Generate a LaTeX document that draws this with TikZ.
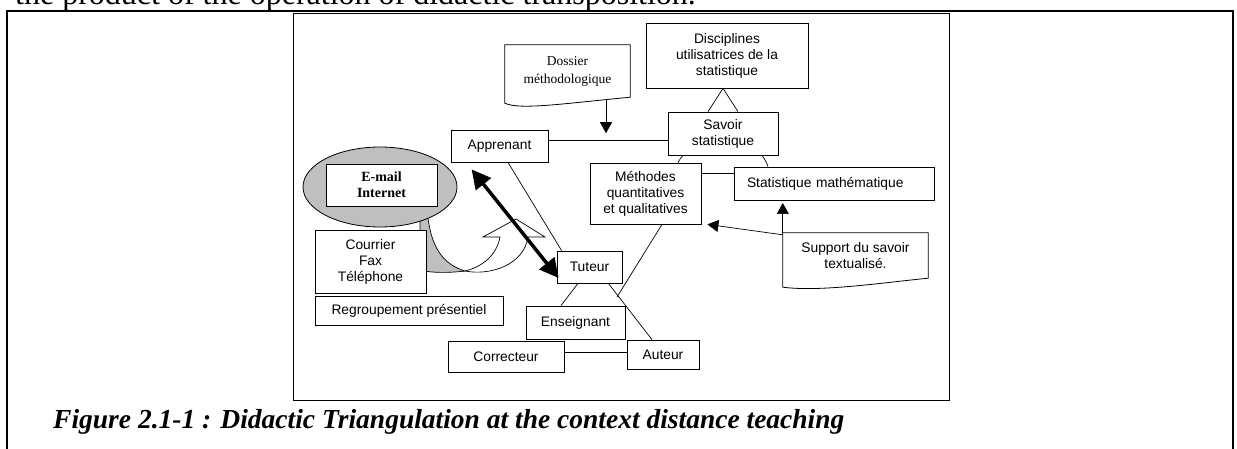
\documentclass[tikz,border=0pt]{standalone}
\usepackage{fontspec}
\setmainfont{Liberation Serif}
\setsansfont{Liberation Sans}
\usetikzlibrary{arrows.meta,shapes.geometric}
\newcommand\boxfont{\sffamily\fontsize{13.8}{16}\selectfont}

\begin{document}
\begin{tikzpicture}[x=1pt,y=-1pt,
  box/.style={draw,fill=white,line width=0.8pt,align=center,inner sep=0pt,font=\boxfont},
  link/.style={line width=0.7pt},
  tip/.style={-{Triangle[length=11pt,width=12pt]}},
  bigtip/.style={{Triangle[length=19pt,width=19pt]}-{Triangle[length=19pt,width=19pt]}}]
\useasboundingbox (0,0) rectangle (1237,449);
\fill[white] (0,0) rectangle (1237,449);
\begin{scope}
\clip (0,0) rectangle (1237,449);
\node[anchor=base west,inner sep=0pt,font=\fontsize{32}{36}\selectfont] (intro) at (15,5)
  {the product of the operation of didactic transposition.};
\end{scope}
\draw[line width=1.6pt] (7,449) -- (7,11) -- (1233,11) -- (1233,449);
\draw[line width=0.8pt] (293,13) rectangle (949,400);

\node[anchor=base west,inner sep=0pt,font=\bfseries\itshape\fontsize{27.5}{30}\selectfont] (caption) at (53,428)
  {Figure 2.1-1 : Didactic Triangulation at the context distance teaching};

\fill[gray!50,draw=black,line width=0.7pt] (420,218) -- (428,218) .. controls (432,250) and (445,265) .. (465,271)
  .. controls (450,273) and (430,273) .. (420,270) -- cycle;
\node[ellipse,draw,fill=gray!50,line width=0.8pt,minimum width=154pt,minimum height=80pt,inner sep=0pt] (cloud) at (380,187) {};
\node[box,font=\bfseries\fontsize{14}{16}\selectfont,minimum width=111pt,minimum height=42pt] (email) at (381.5,185) {E-mail\\Internet};
\draw[link,fill=white] (500,237) .. controls (497,255) and (482,267) .. (465,271)
  .. controls (490,276) and (524,265) .. (528,237) -- (545,237) -- (516,219) -- (483,237) -- cycle;

\node[box,minimum width=111pt,minimum height=63pt] (cour) at (370.5,261.5) {Courrier\\Fax\\Téléphone};
\node[box,minimum width=188pt,minimum height=29pt] (regr) at (409,310.5) {Regroupement présentiel};

\node[minimum width=125pt,minimum height=52pt,inner sep=0pt,align=center,font=\fontsize{13.5}{18}\selectfont] (doss) at (567.5,71) {Dossier\\méthodologique};
\draw[line width=0.8pt] (doss.north west) -- (doss.north east) -- (doss.south east)
  .. controls (560,104) and (520,110) .. ([yshift=-6pt]doss.south west) -- cycle;
\node[box,minimum width=162pt,minimum height=65pt] (disc) at (727,55.5) {Disciplines\\utilisatrices de la\\statistique};
\node[box,minimum width=110pt,minimum height=43pt] (sav) at (723,133.5) {Savoir\\statistique};
\node[box,minimum width=97pt,minimum height=32pt] (appr) at (499.5,146) {Apprenant};
\node[box,minimum width=111pt,minimum height=61pt] (meth) at (645.5,193.5) {Méthodes\\quantitatives\\et qualitatives};
\node[box,minimum height=33pt,inner xsep=13pt,text width=174pt,align=left] (smath) at (834,183.5) {Statistique mathématique};
\node[minimum width=145pt,minimum height=45pt,inner sep=0pt,align=center,font=\boxfont] (supp) at (855.5,255.5) {Support du savoir\\textualisé.};
\draw[line width=0.8pt] (supp.north west) -- (supp.north east) -- (supp.south east)
  .. controls (880,283) and (820,292) .. ([yshift=-9pt]supp.south west) -- cycle;
\node[box,minimum width=65pt,minimum height=32pt] (tut) at (589.5,267) {Tuteur};
\node[box,minimum width=99pt,minimum height=33pt] (ens) at (575.5,322.5) {Enseignant};
\node[box,minimum width=116pt,minimum height=31pt] (corr) at (506,356.5) {Correcteur};
\node[box,minimum width=72pt,minimum height=29pt] (aut) at (663,354.5) {Auteur};

\coordinate (methend) at (617,297);

\draw[link] ([yshift=6pt]appr.east) -- (sav.west |- 0,140);
\draw[link,tip] ([xshift=38.5pt,yshift=-2pt]doss.south) -- ++(0,34);
\draw[link] ([xshift=-15pt]sav.north) -- (sav.north |- disc.south) -- ([xshift=15pt]sav.north);
\draw[link] ([xshift=-40pt]sav.south) to[bend right=8] ([xshift=32.5pt]meth.north);
\draw[link] ([xshift=39pt]sav.south) to[bend left=8] ([xshift=-66pt]smath.north);
\draw[link] (meth.east |- 0,173) -- (smath.west |- 0,173);
\draw[link] ([xshift=16.5pt]meth.south) -- (methend);
\draw[link,tip] (supp.north west) -- (supp.north west |- 0,203);
\draw[link,tip] ([yshift=-2pt]supp.north west) -- ([xshift=6pt]meth.south east);
\draw[link] ([xshift=8.5pt]appr.south) -- ([xshift=5pt]tut.north west);
\draw[link] ([xshift=-11.5pt]tut.south) -- ([xshift=-14.5pt]ens.north);
\draw[link] ([xshift=-14pt]tut.south east) -- ([xshift=-11pt]aut.north);
\draw[link] (corr.east |- 0,352) -- (aut.west |- 0,352);
\draw[line width=3.5pt,bigtip] ([xshift=21pt,yshift=-7pt]appr.south west) -- ([xshift=2pt,yshift=-11pt]tut.west);
\end{tikzpicture}
\end{document}
